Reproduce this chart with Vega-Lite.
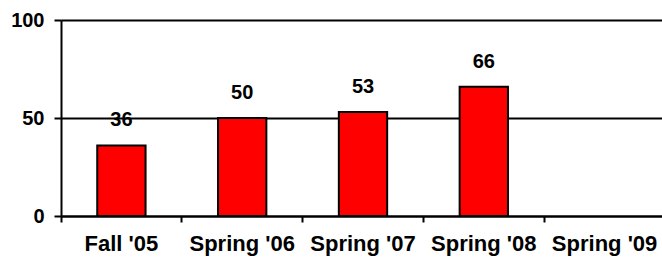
{
  "$schema": "https://vega.github.io/schema/vega-lite/v6.json",
  "autosize": "none",
  "width": 604,
  "height": 196,
  "padding": {"left": 61, "top": 20, "right": 0, "bottom": 42},
  "background": "white",
  "config": {
    "view": {"stroke": null},
    "font": "Liberation Sans"
  },
  "data": {
    "values": [
      {"term": "Fall '05", "value": 36},
      {"term": "Spring '06", "value": 50},
      {"term": "Spring '07", "value": 53},
      {"term": "Spring '08", "value": 66},
      {"term": "Spring '09", "value": null}
    ]
  },
  "encoding": {
    "x": {
      "field": "term",
      "type": "nominal",
      "sort": null,
      "scale": {"domain": ["Fall '05", "Spring '06", "Spring '07", "Spring '08", "Spring '09"], "paddingInner": 0, "paddingOuter": 0},
      "axis": {
        "title": null,
        "labelAngle": 0,
        "bandPosition": 0,
        "labelFont": "Liberation Sans",
        "labelFontWeight": "bold",
        "labelFontSize": 22,
        "labelColor": "black",
        "labelPadding": 11,
        "labelOverlap": false,
        "labelBound": false,
        "tickColor": "black",
        "tickWidth": 2,
        "tickSize": 6,
        "domainColor": "black",
        "domainWidth": 2,
        "grid": false
      }
    },
    "y": {
      "field": "value",
      "type": "quantitative",
      "scale": {"domain": [0, 100], "nice": false},
      "axis": {
        "title": null,
        "values": [0, 50, 100],
        "labelFont": "Liberation Sans",
        "labelFontWeight": "bold",
        "labelFontSize": 20,
        "labelColor": "black",
        "labelPadding": 10,
        "tickColor": "black",
        "tickWidth": 2,
        "tickSize": 7,
        "domainColor": "black",
        "domainWidth": 2,
        "grid": true,
        "gridColor": "black",
        "gridWidth": 2,
        "gridOpacity": 1
      }
    }
  },
  "layer": [
    {
      "mark": {"type": "bar", "width": {"band": 0.4}, "fill": "#ff0000", "stroke": "black", "strokeWidth": 2}
    },
    {
      "mark": {"type": "text", "baseline": "alphabetic", "dy": -19, "font": "Liberation Sans", "fontWeight": "bold", "fontSize": 20, "color": "black"},
      "encoding": {"text": {"field": "value", "type": "quantitative"}}
    }
  ]
}
